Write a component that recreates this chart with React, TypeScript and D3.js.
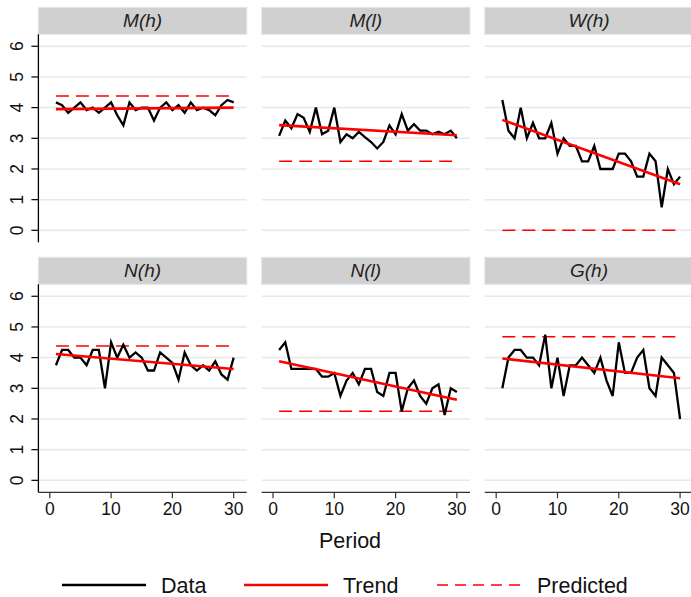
import React from "react";
import * as d3 from "d3";

const panelNames = ["M(h)", "M(l)", "W(h)", "N(h)", "N(l)", "G(h)"];
const periods = d3.range(1, 31);

const dataMh = [4.17, 4.08, 3.83, 4.0, 4.17, 3.92, 4.0, 3.83, 4.0, 4.17, 3.75, 3.42, 4.17, 3.92, 4.0, 4.0, 3.58, 4.0, 4.17, 3.92, 4.08, 3.83, 4.17, 3.92, 4.0, 3.92, 3.75, 4.08, 4.25, 4.17];
const dataMl = [3.08, 3.58, 3.33, 3.79, 3.67, 3.21, 4.0, 3.13, 3.25, 4.0, 2.88, 3.13, 3.0, 3.21, 3.04, 2.88, 2.67, 2.88, 3.42, 3.13, 3.79, 3.25, 3.46, 3.25, 3.25, 3.13, 3.21, 3.13, 3.25, 3.0];
const dataWh = [4.25, 3.25, 3.0, 4.0, 3.0, 3.5, 3.0, 3.0, 3.5, 2.5, 3.0, 2.75, 2.75, 2.25, 2.25, 2.75, 2.0, 2.0, 2.0, 2.5, 2.5, 2.25, 1.75, 1.75, 2.5, 2.25, 0.75, 2.0, 1.5, 1.75];
const dataNh = [3.75, 4.25, 4.25, 4.0, 4.0, 3.75, 4.25, 4.25, 3.0, 4.5, 4.0, 4.42, 4.0, 4.17, 4.0, 3.58, 3.58, 4.17, 4.0, 3.83, 3.28, 4.17, 3.75, 3.58, 3.75, 3.58, 3.88, 3.45, 3.28, 4.0];
const dataNl = [4.25, 4.5, 3.63, 3.63, 3.63, 3.63, 3.63, 3.38, 3.38, 3.5, 2.75, 3.25, 3.5, 3.13, 3.63, 3.63, 2.88, 2.75, 3.5, 3.5, 2.25, 3.0, 3.25, 2.75, 2.5, 3.0, 3.13, 2.13, 3.0, 2.88];
const dataGh = [3.0, 4.0, 4.25, 4.25, 4.0, 4.0, 3.75, 4.75, 3.0, 4.0, 2.75, 3.75, 3.75, 4.0, 3.75, 3.5, 4.0, 3.25, 2.75, 4.5, 3.5, 3.5, 4.0, 4.25, 3.0, 2.75, 4.0, 3.75, 3.5, 2.0];
const panelData = [dataMh, dataMl, dataWh, dataNh, dataNl, dataGh];

const trendStart = [3.95, 3.43, 3.6, 4.12, 3.88, 3.97];
const trendEnd = [4.0, 3.1, 1.5, 3.63, 2.63, 3.33];
const predicted = [4.38, 2.25, 0, 4.38, 2.25, 4.68];

const yTicks = [0, 1, 2, 3, 4, 5, 6];
const xTicks = [0, 10, 20, 30];
const legendLabels = ["Data", "Trend", "Predicted"];

const W = 691;
const H = 597;
const panelLeft0 = 38.4;
const panelStep = 223.2;
const panelW = 208.4;
const rowTop0 = 34.3;
const rowStep = 250;
const plotH = 208;
const stripH = 27;

const FONT = "'Liberation Sans', Arial, Helvetica, sans-serif";
const NARROW = "'Liberation Sans Narrow', 'Arial Narrow', 'Liberation Sans', Arial, sans-serif";

export default function App() {
  const lineGen = (x: d3.ScaleLinear<number, number>, y: d3.ScaleLinear<number, number>) =>
    d3.line<number>().x((_, i) => x(periods[i])).y((d) => y(d));

  return (
    <svg width={W} height={H} style={{ position: "absolute", left: 0, top: 0, background: "#fff" }}>
      {panelNames.map((name, p) => {
        const col = p % 3;
        const row = Math.floor(p / 3);
        const left = panelLeft0 + col * panelStep;
        const top = rowTop0 + row * rowStep;
        const x = d3.scaleLinear().domain([-1.86, 32.14]).range([left, left + panelW]);
        const y = d3.scaleLinear().domain([-0.39, 6.39]).range([top + plotH, top]);
        const data = panelData[p];
        return (
          <g key={name}>
            <rect x={left} y={top - stripH} width={panelW} height={stripH} fill="#d0d0d0" stroke="#dce8ee" strokeWidth={1} />
            <text x={left + panelW / 2} y={top - 7} textAnchor="middle" fontFamily={FONT} fontStyle="italic" fontSize={19} fill="#222">
              {name}
            </text>
            {yTicks.map((t) => (
              <line key={t} x1={left} x2={left + panelW} y1={y(t)} y2={y(t)} stroke="#e8e8e8" strokeWidth={1.5} />
            ))}
            {col === 0 && (
              <g>
                <line x1={left} x2={left} y1={top} y2={top + plotH} stroke="#000" strokeWidth={1.3} />
                {yTicks.map((t) => (
                  <g key={t}>
                    <line x1={left - 7} x2={left} y1={y(t)} y2={y(t)} stroke="#000" strokeWidth={1.2} />
                    <text
                      transform={`translate(${left - 15.5},${y(t)}) rotate(-90)`}
                      textAnchor="middle"
                      fontFamily={NARROW}
                      fontSize={17.5}
                      fill="#111"
                    >
                      {t}
                    </text>
                  </g>
                ))}
              </g>
            )}
            {row === 1 && (
              <g>
                <line x1={left} x2={left + panelW} y1={top + plotH} y2={top + plotH} stroke="#333" strokeWidth={1.3} />
                {xTicks.map((t) => (
                  <g key={t}>
                    <line x1={x(t)} x2={x(t)} y1={top + plotH} y2={top + plotH + 6} stroke="#333" strokeWidth={1.2} />
                    <text x={x(t)} y={top + plotH + 23} textAnchor="middle" fontFamily={NARROW} fontSize={17.5} fill="#111">
                      {t}
                    </text>
                  </g>
                ))}
              </g>
            )}
            <line
              x1={x(1)}
              x2={x(30)}
              y1={y(predicted[p])}
              y2={y(predicted[p])}
              stroke="#ff0000"
              strokeWidth={1.5}
              strokeDasharray="13,7"
            />
            <path d={lineGen(x, y)(data) || ""} fill="none" stroke="#000" strokeWidth={2.3} strokeLinejoin="miter" />
            <line x1={x(1)} x2={x(30)} y1={y(trendStart[p])} y2={y(trendEnd[p])} stroke="#ff0000" strokeWidth={2.6} />
          </g>
        );
      })}
      <text x={350} y={548} textAnchor="middle" fontFamily={FONT} fontSize={21.5} fill="#111">
        Period
      </text>
      <g>
        <line x1={62} x2={146} y1={585} y2={585} stroke="#000" strokeWidth={2.6} />
        <text x={161} y={592.5} fontFamily={FONT} fontSize={21.5} fill="#111">{legendLabels[0]}</text>
        <line x1={244} x2={328} y1={585} y2={585} stroke="#ff0000" strokeWidth={2.6} />
        <text x={343} y={592.5} fontFamily={FONT} fontSize={21.5} fill="#111">{legendLabels[1]}</text>
        <line x1={437} x2={522} y1={585} y2={585} stroke="#ff0000" strokeWidth={1.5} strokeDasharray="11,7" />
        <text x={537} y={592.5} fontFamily={FONT} fontSize={21.5} fill="#111">{legendLabels[2]}</text>
      </g>
    </svg>
  );
}
